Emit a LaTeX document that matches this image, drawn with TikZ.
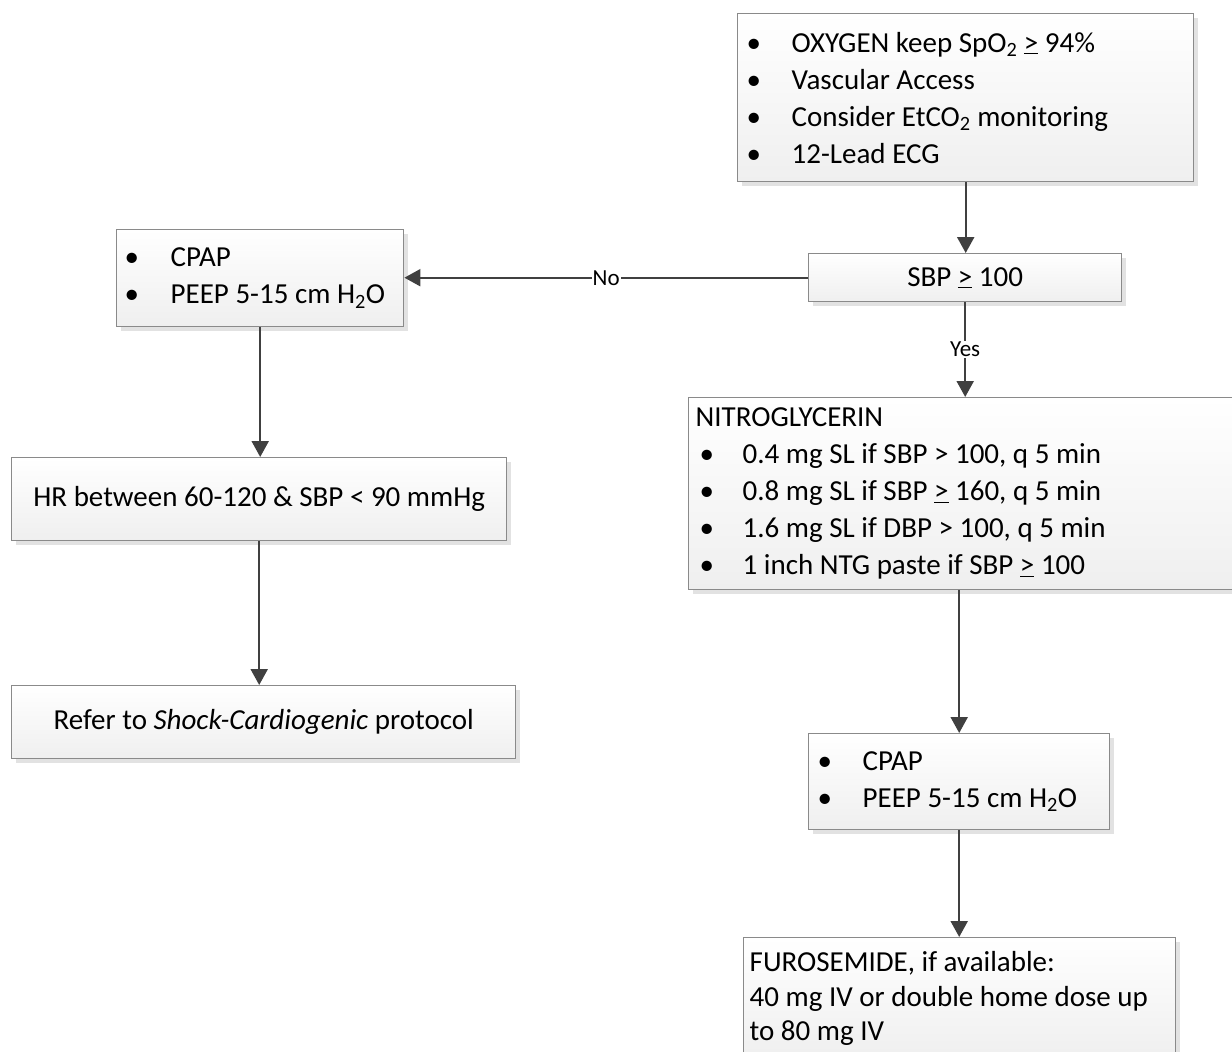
\documentclass[tikz,border=0pt]{standalone}
\usepackage{fontspec}
\setmainfont{Carlito}
\usetikzlibrary{arrows.meta,shadows}
\definecolor{bordc}{HTML}{8A8A8A}
\definecolor{arrc}{HTML}{404040}
\definecolor{shadc}{HTML}{E2E2E2}
\definecolor{botc}{HTML}{EFEFEF}
\newcommand{\ugt}{\underline{>}}
\newcommand{\bitem}[2]{\makebox[#1][l]{\textbullet}#2}
\tikzset{
  box/.style={draw=bordc, line width=1.4pt, top color=white, bottom color=botc,
    drop shadow={shadow xshift=4pt, shadow yshift=-4pt, fill=shadc, opacity=1},
    anchor=north west, align=flush left, inner ysep=0pt,
    font=\fontsize{29}{37}\selectfont},
  arr/.style={draw=arrc, line width=2.2pt, -{Triangle[width=17pt,length=16pt]}},
  lbl/.style={fill=white, inner sep=1pt, font=\fontsize{23}{26}\selectfont, text=black}
}
\begin{document}
\begin{tikzpicture}[x=1pt,y=-1pt]
\useasboundingbox (0,0) rectangle (1232,1052);
\clip (0,0) rectangle (1232,1052);

\node[box, minimum width=456pt, minimum height=168pt, inner xsep=9pt, text width=438pt] (top) at (737,13)
 {\bitem{45pt}{OXYGEN keep SpO\textsubscript{2} \ugt\ 94\%}\\
  \bitem{45pt}{Vascular Access}\\
  \bitem{45pt}{Consider EtCO\textsubscript{2} monitoring}\\
  \bitem{45pt}{12-Lead ECG}};

\node[box, minimum width=313pt, minimum height=48pt, align=center] (sbp) at (808,253)
 {SBP \ugt\ 100};

\node[box, minimum width=287pt, minimum height=97pt, inner xsep=8pt, text width=271pt] (cpapL) at (116,229)
 {\bitem{46pt}{CPAP}\\
  \bitem{46pt}{PEEP 5-15 cm H\textsubscript{2}O}};

\node[box, minimum width=495pt, minimum height=83pt, align=center] (hr) at (11,457)
 {HR between 60-120 \& SBP < 90 mmHg};

\node[box, minimum width=504pt, minimum height=73pt, align=center] (refer) at (11,685)
 {Refer to \textit{Shock-Cardiogenic} protocol};

\node[box, minimum width=554pt, minimum height=192pt, inner xsep=7pt, text width=540pt] (nitro) at (688,397)
 {NITROGLYCERIN\\
  \hspace*{4pt}\bitem{43pt}{0.4 mg SL if SBP > 100, q 5 min}\\
  \hspace*{4pt}\bitem{43pt}{0.8 mg SL if SBP \ugt\ 160, q 5 min}\\
  \hspace*{4pt}\bitem{43pt}{1.6 mg SL if DBP > 100, q 5 min}\\
  \hspace*{4pt}\bitem{43pt}{1 inch NTG paste if SBP \ugt\ 100}};

\node[box, minimum width=301pt, minimum height=96pt, inner xsep=9pt, text width=283pt] (cpapR) at (808,733)
 {\bitem{45pt}{CPAP}\\
  \bitem{45pt}{PEEP 5-15 cm H\textsubscript{2}O}};

\node[box, minimum width=432pt, inner xsep=6pt, inner ysep=14pt, text width=420pt,
  font=\fontsize{29}{34.5}\selectfont] (furo) at (743,937)
 {FUROSEMIDE, if available:\\
  40 mg IV or double home dose up\\
  to 80 mg IV};

\draw[arr] (top.south) -- (top.south |- sbp.north);
\draw[arr] (sbp.west) -- node[lbl]{No} (sbp.west -| cpapL.east);
\draw[arr] (sbp.south) -- node[lbl]{Yes} (sbp.south |- nitro.north);
\draw[arr] (cpapR.north |- nitro.south) -- (cpapR.north);
\draw[arr] (cpapR.south) -- (cpapR.south |- furo.north);
\draw[arr] (cpapL.south) -- (cpapL.south |- hr.north);
\draw[arr] (hr.south) -- (hr.south |- refer.north);
\end{tikzpicture}
\end{document}
